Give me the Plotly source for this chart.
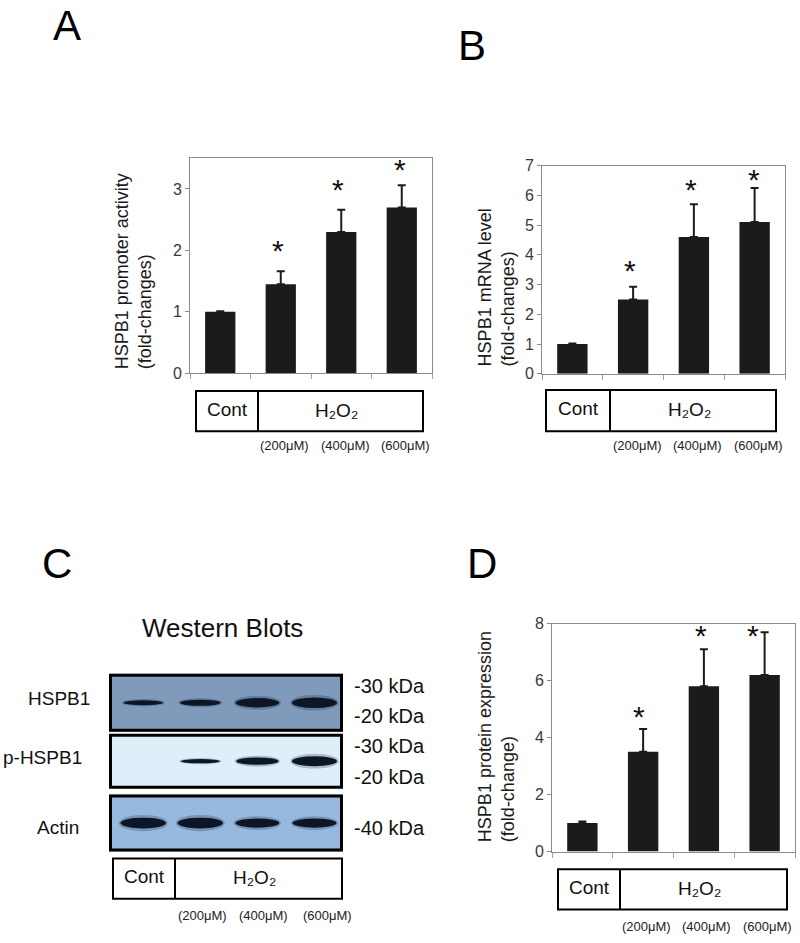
import plotly.graph_objects as go

W, H = 800, 943
FONT = "Liberation Sans, Arial, Helvetica, sans-serif"


def px(x):
    return x / W


def py(y):
    return 1 - y / H


# ---------------- data ----------------
groups = [0, 1, 2, 3]                      # Cont, 200, 400, 600 uM H2O2
group_names = ["Cont", "H2O2 200uM", "H2O2 400uM", "H2O2 600uM"]
conc_labels = ["(200μM)", "(400μM)", "(600μM)"]

promoter_mean = [1.0, 1.45, 2.3, 2.7]
promoter_upper = [1.01, 1.66, 2.66, 3.06]
promoter_star = [None, 2.0, 2.99, 3.32]

mrna_mean = [1.0, 2.5, 4.6, 5.1]
mrna_upper = [1.02, 2.93, 5.7, 6.25]
mrna_star = [None, 3.48, 6.21, 6.54]

protein_mean = [1.0, 3.5, 5.8, 6.2]
protein_upper = [1.05, 4.3, 7.1, 7.7]
protein_star = [None, 4.75, 7.6, 7.6]

blot_rows = ["HSPB1", "p-HSPB1", "Actin"]
blot_bands = {
    "HSPB1": [0.45, 0.55, 0.85, 0.95],
    "p-HSPB1": [0.0, 0.4, 0.7, 0.95],
    "Actin": [1.0, 1.0, 0.85, 0.85],
}
kda_labels = ["-30 kDa", "-20 kDa", "-30 kDa", "-20 kDa", "-40 kDa"]

fig = go.Figure()
shapes = []
annots = []


def note(**kw):
    kw.setdefault("showarrow", False)
    kw.setdefault("xanchor", "center")
    kw.setdefault("yanchor", "middle")
    annots.append(kw)


BAR_COLOR = "#1b1b1b"
LINE_COLOR = "#8a8a8a"

panels = [
    # name, axis suffix, mean, upper, star, x-domain px, y-domain px (top,bottom), yrange, dtick, star xshifts, label xshift
    ("A", "", promoter_mean, promoter_upper, promoter_star, (190, 432), (153, 372), (0, 3.5), 1, [0, -3, -3, -2], 4),
    ("B", "2", mrna_mean, mrna_upper, mrna_star, (542, 785), (160.5, 372.5), (0, 7), 1, [0, -3, -3, -1], 4),
    ("D", "3", protein_mean, protein_upper, protein_star, (552, 795), (627, 859), (0, 8), 2, [0, -4, -3, -12], 3),
]

for name, sfx, mean, upper, star, xd, yd, yr, dt, sx, lshift in panels:
    xa = "x" + sfx
    ya = "y" + sfx
    errp = [u - m for u, m in zip(upper, mean)]
    fig.add_trace(go.Bar(
        x=groups, y=mean, width=0.5, xaxis=xa, yaxis=ya,
        marker=dict(color=BAR_COLOR, line=dict(width=0)),
        error_y=dict(type="data", symmetric=False, array=errp,
                     arrayminus=[0] * len(mean), thickness=2, width=4,
                     color=BAR_COLOR),
        showlegend=False, hoverinfo="skip",
    ))
    for g, s, shift in zip(groups, star, sx):
        if s is None:
            continue
        note(x=g, y=s, xref=xa, yref=ya, text="*", xshift=shift, yshift=0,
             font=dict(family=FONT, size=30, color="#111"))
    xkey = "xaxis" + sfx
    ykey = "yaxis" + sfx
    fig.layout[xkey] = dict(
        domain=[px(xd[0]), px(xd[1])], range=[-0.5, 3.5], anchor=ya,
        tickvals=[-0.5, 0.5, 1.5, 2.5, 3.5], showticklabels=False,
        ticks="outside", ticklen=5, tickcolor="#a0a0a0", tickwidth=1,
        showline=True, linecolor=LINE_COLOR, linewidth=1, mirror=True,
        showgrid=False, zeroline=False, fixedrange=True)
    fig.layout[ykey] = dict(
        domain=[py(yd[1]), py(yd[0])], range=list(yr), dtick=dt, anchor=xa,
        ticks="outside", ticklen=4, tickcolor=LINE_COLOR, tickwidth=1,
        showline=True, linecolor=LINE_COLOR, linewidth=1, mirror=True,
        showgrid=False, zeroline=False, fixedrange=True,
        tickfont=dict(family=FONT, size=16, color="#3a3a3a"))
    # concentration labels under the bars (bars 2-4)
    conc_y = {"A": 446, "B": 446, "D": 935}[name]
    for g, lab in zip(groups[1:], conc_labels):
        note(x=g, y=py(conc_y), xref=xa, yref="paper", text=lab, xshift=lshift,
             borderpad=0, font=dict(family=FONT, size=13, color="#222"))

# y-axis titles (rotated)
ytitles = [
    ("HSPB1 promoter activity<br>(fold-changes)", 133, 370),
    ("HSPB1 mRNA level<br>(fold-changes)", 496, 367),
    ("HSPB1 protein expression<br>(fold-change)", 496, 852),
]
for txt, xc, yb in ytitles:
    note(x=px(xc), y=py(yb), xref="paper", yref="paper", text=txt,
         textangle=-90, align="left", xanchor="center", yanchor="bottom",
         font=dict(family=FONT, size=18, color="#1a1a1a"))

# treatment label boxes (Cont | H2O2)
label_boxes = [
    (196, 258, 423, 390, 431),
    (546, 610, 776, 389, 431),
    (113, 175, 342, 866, 907),
    (558, 620, 787, 877, 918),
]
for x0, xm, x1, y0, y1 in label_boxes:
    shapes.append(dict(type="rect", xref="paper", yref="paper",
                       x0=px(x0), x1=px(x1), y0=py(y1), y1=py(y0),
                       line=dict(color="#000", width=2), fillcolor="white"))
    shapes.append(dict(type="line", xref="paper", yref="paper",
                       x0=px(xm), x1=px(xm), y0=py(y1), y1=py(y0),
                       line=dict(color="#000", width=2)))
    ym = (y0 + y1) / 2 - 2
    note(x=px((x0 + xm) / 2), y=py(ym), xref="paper", yref="paper", text="Cont",
         font=dict(family=FONT, size=19, color="#111"))
    note(x=px((xm + x1) / 2 - 4), y=py(ym + 1), xref="paper", yref="paper",
         text="H₂O₂",
         font=dict(family=FONT, size=19, color="#111"))

# ---------------- Western blot panel ----------------
blot_boxes = {  # top, bottom (px)
    "HSPB1": (678, 737),
    "p-HSPB1": (739, 795),
    "Actin": (801, 859),
}
blot_bg = {"HSPB1": "#7f9abb", "p-HSPB1": "#dfeff9", "Actin": "#98b9de"}
blot_x = (109, 343)
fig.layout["xaxis4"] = dict(domain=[px(blot_x[0]), px(blot_x[1])], range=[-0.6, 3.5],
                            visible=False, fixedrange=True, anchor="y4")
for i, row in enumerate(blot_rows):
    top, bot = blot_boxes[row]
    ya = "y" + str(4 + i)
    key = "yaxis" + str(4 + i)
    fig.layout[key] = dict(domain=[py(bot), py(top)], range=[0, 1], visible=False,
                           fixedrange=True, anchor="x4")
    shapes.append(dict(type="rect", xref="paper", yref="paper",
                       x0=px(blot_x[0]), x1=px(blot_x[1]), y0=py(bot), y1=py(top),
                       line=dict(width=0), fillcolor=blot_bg[row], layer="below"))
    fig.add_trace(go.Scatter(x=groups, y=[0.5] * 4, xaxis="x4", yaxis=ya,
                             mode="markers", marker=dict(opacity=0),
                             showlegend=False, hoverinfo="skip"))
    for g, inten in zip(groups, blot_bands[row]):
        if inten <= 0:
            continue
        hw = 0.3 + 0.1 * inten
        hh = 0.095 * inten
        shapes.append(dict(type="circle", xref="x4", yref=ya,
                           x0=g - hw - 0.03, x1=g + hw + 0.03,
                           y0=0.5 - hh * 1.5, y1=0.5 + hh * 1.5,
                           line=dict(width=0), fillcolor="rgba(20,35,60,0.25)"))
        shapes.append(dict(type="circle", xref="x4", yref=ya,
                           x0=g - hw, x1=g + hw, y0=0.5 - hh, y1=0.5 + hh,
                           line=dict(width=0), fillcolor="#0c1626"))
    shapes.append(dict(type="rect", xref="paper", yref="paper",
                       x0=px(blot_x[0] + 1.5), x1=px(blot_x[1] - 1.5),
                       y0=py(bot - 1.5), y1=py(top + 1.5),
                       line=dict(width=3, color="#000")))

row_label_pos = {"HSPB1": (59, 703), "p-HSPB1": (42, 763), "Actin": (58, 835)}
for row in blot_rows:
    xc, yc = row_label_pos[row]
    note(x=px(xc), y=py(yc), xref="paper", yref="paper", text=row,
         font=dict(family=FONT, size=19, color="#111"))

kda_y = [690, 721, 752, 783, 835]
for lab, yy in zip(kda_labels, kda_y):
    note(x=px(352), y=py(yy), xref="paper", yref="paper", text=lab,
         xanchor="left", font=dict(family=FONT, size=20, color="#111"))

for g, lab in zip(groups[1:], conc_labels):
    note(x=g, y=py(924), xref="x4", yref="paper", text=lab,
         xshift={1: 2, 2: 6, 3: 13}[g],
         font=dict(family=FONT, size=13, color="#222"))

note(x=px(222), y=py(631), xref="paper", yref="paper", text="Western Blots",
     font=dict(family=FONT, size=26, color="#111"))

# panel letters
for letter, xc, yc in [("A", 67, 18), ("B", 472, 38), ("C", 57, 566), ("D", 482, 566)]:
    note(x=px(xc), y=py(yc), xref="paper", yref="paper", text=letter,
         font=dict(family=FONT, size=42, color="#000"))

fig.update_layout(
    width=W, height=H, margin=dict(l=0, r=0, t=0, b=0),
    paper_bgcolor="white", plot_bgcolor="white",
    shapes=shapes, annotations=annots, showlegend=False,
    font=dict(family=FONT),
)

fig.write_html(
    "out.html",
    config={"displayModeBar": False},
    post_script="document.body.style.margin='0';"
                "document.body.style.overflow='hidden';",
)
